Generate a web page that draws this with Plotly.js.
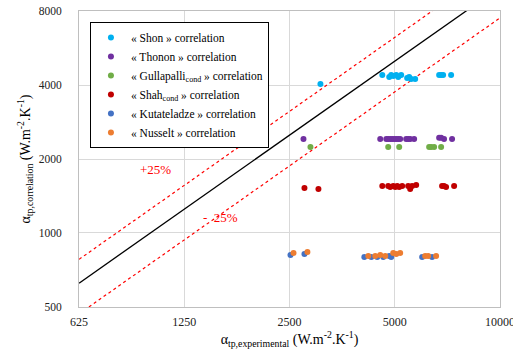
<!DOCTYPE html>
<html>
<head>
<meta charset="utf-8">
<script src="https://cdn.plot.ly/plotly-3.0.1.min.js"></script>
<style>html,body{margin:0;padding:0;background:#fff;}#chart{width:513px;height:350px;}</style>
</head>
<body>
<div id="chart"></div>
<script>
// Reference lines
const refX = [625, 10000];
const refFactorUpper = 1.25;
const refFactorLower = 0.75;

// Series data (experimental vs correlation)
const shonX = [3065, 4607, 4823, 4886, 4951, 5050, 5117, 5218, 5427, 5500, 5573, 5721, 6700, 6787, 6877, 7250];
const shonY = [4038, 4393, 4311, 4393, 4350, 4393, 4311, 4393, 4270, 4311, 4231, 4231, 4393, 4393, 4393, 4393];

const thononX = [2741, 4545, 4730, 4790, 4854, 4918, 4983, 5050, 5117, 5183, 5392, 5463, 5536, 5683, 6700, 6787, 6920, 7295];
const thononY = [2412, 2412, 2412, 2412, 2412, 2412, 2412, 2412, 2412, 2412, 2412, 2412, 2412, 2412, 2440, 2440, 2412, 2412];

const gullaX = [2870, 4790, 5150, 6273, 6355, 6481, 6787];
const gullaY = [2238, 2238, 2238, 2238, 2238, 2238, 2238];

const shahX = [2759, 3025, 4607, 4790, 4854, 4951, 5017, 5084, 5150, 5252, 5463, 5536, 5608, 5759, 6831, 6920, 7013, 7394];
const shahY = [1524, 1510, 1553, 1553, 1540, 1553, 1540, 1553, 1540, 1553, 1553, 1510, 1553, 1567, 1553, 1553, 1540, 1553];

const kutaX = [2516, 2759, 4092, 4285, 4457, 4636, 4823, 4886, 5990, 6395];
const kutaY = [814, 821, 799, 799, 799, 799, 806, 799, 799, 799];

const nussX = [2567, 2813, 4202, 4399, 4545, 4698, 4951, 5050, 5183, 6111, 6233, 6567];
const nussY = [829, 837, 806, 806, 814, 806, 829, 821, 829, 806, 806, 806];

const xTicks = [625, 1250, 2500, 5000, 10000];
const xTickText = ['625', '1250', '2500', '5000', '10000'];
const yTicks = [500, 1000, 2000, 4000, 8000];
const yTickText = ['500', '1000', '2000', '4000', '8000'];

const seriesNames = [
  '« Shon » correlation',
  '« Thonon » correlation',
  '« Gullapalli<sub>cond</sub> » correlation',
  '« Shah<sub>cond</sub> » correlation',
  '« Kutateladze » correlation',
  '« Nusselt » correlation'
];
const seriesColors = ['#00B0F0', '#7030A0', '#70AD47', '#C00000', '#4472C4', '#ED7D31'];
const seriesX = [shonX, thononX, gullaX, shahX, kutaX, nussX];
const seriesY = [shonY, thononY, gullaY, shahY, kutaY, nussY];

const traces = [
  {x: refX, y: refX, mode: 'lines', line: {color: '#000', width: 1.3}, showlegend: false, hoverinfo: 'skip'},
  {x: refX, y: refX.map(v => v * refFactorUpper), mode: 'lines', line: {color: '#FF0000', width: 1.2, dash: 'dot'}, showlegend: false, hoverinfo: 'skip'},
  {x: refX, y: refX.map(v => v * refFactorLower), mode: 'lines', line: {color: '#FF0000', width: 1.2, dash: 'dot'}, showlegend: false, hoverinfo: 'skip'}
];
for (let i = 0; i < seriesNames.length; i++) {
  traces.push({
    x: seriesX[i], y: seriesY[i], mode: 'markers', name: seriesNames[i],
    marker: {color: seriesColors[i], size: 6}
  });
}

const fontFam = 'Liberation Serif';

const layout = {
  width: 513, height: 350,
  margin: {l: 79, r: 13, t: 11, b: 43},
  paper_bgcolor: '#fff', plot_bgcolor: '#fff',
  font: {family: fontFam, color: '#000', size: 12},
  xaxis: {
    type: 'log', range: [Math.log10(625) - 0.0002, 4.0002],
    tickvals: xTicks, ticktext: xTickText, ticklabeloverflow: 'allow', ticklabelstandoff: 4,
    showgrid: true, gridcolor: '#D9D9D9', gridwidth: 1,
    showline: true, linecolor: '#BFBFBF', linewidth: 1, mirror: true,
    ticks: '', tickfont: {family: fontFam, size: 12, color: '#222'},
    zeroline: false,
    title: {text: 'α<sub>tp,experimental</sub> (W.m<sup>-2</sup>.K<sup>-1</sup>)', font: {family: fontFam, size: 14, color: '#000'}, standoff: 4}
  },
  yaxis: {
    type: 'log', range: [Math.log10(500) - 0.0002, Math.log10(8000) + 0.0002],
    tickvals: yTicks, ticktext: yTickText, ticklabelstandoff: 14,
    showgrid: true, gridcolor: '#D9D9D9', gridwidth: 1,
    showline: true, linecolor: '#BFBFBF', linewidth: 1, mirror: true,
    ticks: '', tickfont: {family: fontFam, size: 11.5, color: '#222'},
    zeroline: false,
    title: {text: 'α<sub>tp,correlation</sub> (W.m<sup>-2</sup>.K<sup>-1</sup>)', font: {family: fontFam, size: 14, color: '#000'}, standoff: 4}
  },
  legend: {
    x: 0.026, y: 0.963, xanchor: 'left', yanchor: 'top',
    bgcolor: '#fff', bordercolor: '#000', borderwidth: 1,
    font: {family: fontFam, size: 11.5, color: '#000'},
    itemwidth: 30, tracegroupgap: 0
  },
  annotations: [
    {xref: 'paper', yref: 'paper', x: 0.14, y: 0.463, text: '+25%', showarrow: false, font: {family: fontFam, size: 13, color: '#FF0000'}},
    {xref: 'paper', yref: 'paper', x: 0.335, y: 0.27, text: '-  25%', showarrow: false, font: {family: fontFam, size: 13, color: '#FF0000'}}
  ],
  showlegend: true
};

Plotly.newPlot('chart', traces, layout, {displayModeBar: false, staticPlot: true});
</script>
</body>
</html>
